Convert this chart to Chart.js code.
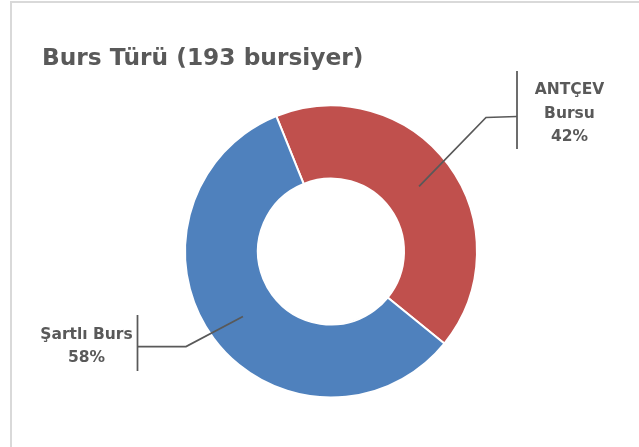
<!DOCTYPE html>
<html lang="tr">
<head>
  <meta charset="UTF-8" />
  <title>Burs Türü</title>
  <script src="https://cdn.jsdelivr.net/npm/chart.js"></script>
  <style>
    html, body { margin: 0; padding: 0; background: #fff; }
    #wrap { position: relative; width: 639px; height: 447px; overflow: hidden; }
    #frame { position: absolute; left: 10px; top: 1px; width: 700px; height: 500px;
             border-left: 2px solid #d9d9d9; border-top: 2px solid #d9d9d9; }
    canvas { position: absolute; left: 0; top: 0; }
  </style>
</head>
<body>
  <div id="wrap">
    <div id="frame"></div>
    <canvas id="donut" width="639" height="447"></canvas>
  </div>

  <script>
    const chartTitle = 'Burs Türü (193 bursiyer)';
    const categories = ['ANTÇEV Bursu', 'Şartlı Burs'];
    const counts = [81, 112];
    const colors = ['#C0504D', '#4F81BD'];

    const textColor = '#595959';
    const fontFamily = '"DejaVu Sans", sans-serif';

    // where each callout goes (elbow, end of leader, bracket, text)
    const callouts = [
      { elbow: [486, 117.5], end: [517, 116.5], bar: [71, 149], textX: 569.5, baselines: [94.3, 117.7, 140.7], split: true },
      { elbow: [186, 346.5], end: [137.5, 346.5], bar: [315, 371], textX: 86.5, baselines: [339.3, 361.7], split: false }
    ];

    const calloutPlugin = {
      id: 'callouts',
      afterDatasetsDraw(chart) {
        const ctx = chart.ctx;
        const meta = chart.getDatasetMeta(0);
        const total = counts.reduce((a, b) => a + b, 0);
        ctx.save();
        // title
        ctx.fillStyle = textColor;
        ctx.font = 'bold 23.3px ' + fontFamily;
        ctx.textAlign = 'left';
        ctx.textBaseline = 'alphabetic';
        ctx.fillText(chartTitle, 42, 65);

        meta.data.forEach((arc, i) => {
          const c = callouts[i];
          const p = arc.tooltipPosition();
          ctx.strokeStyle = textColor;
          ctx.lineWidth = 1.75;
          ctx.beginPath();
          ctx.moveTo(p.x, p.y);
          ctx.lineTo(c.elbow[0], c.elbow[1]);
          ctx.lineTo(c.end[0], c.end[1]);
          ctx.stroke();
          ctx.beginPath();
          ctx.moveTo(c.end[0], c.bar[0]);
          ctx.lineTo(c.end[0], c.bar[1]);
          ctx.stroke();

          const lines = c.split ? categories[i].split(' ') : [categories[i]];
          lines.push(Math.round(counts[i] / total * 100) + '%');
          ctx.font = 'bold 15.5px ' + fontFamily;
          ctx.textAlign = 'center';
          lines.forEach((t, k) => ctx.fillText(t, c.textX, c.baselines[k]));
        });
        ctx.restore();
      }
    };

    new Chart(document.getElementById('donut'), {
      type: 'doughnut',
      data: {
        labels: categories,
        datasets: [{
          data: counts,
          backgroundColor: colors,
          borderColor: '#ffffff',
          borderWidth: 2,
          hoverOffset: 0
        }]
      },
      options: {
        responsive: false,
        animation: false,
        rotation: -22,
        radius: 146,
        cutout: '50%',
        layout: { padding: { left: 23, top: 56, right: 0, bottom: 0 } },
        plugins: {
          legend: { display: false },
          title: { display: false },
          tooltip: { enabled: false }
        }
      },
      plugins: [calloutPlugin]
    });
  </script>
</body>
</html>
